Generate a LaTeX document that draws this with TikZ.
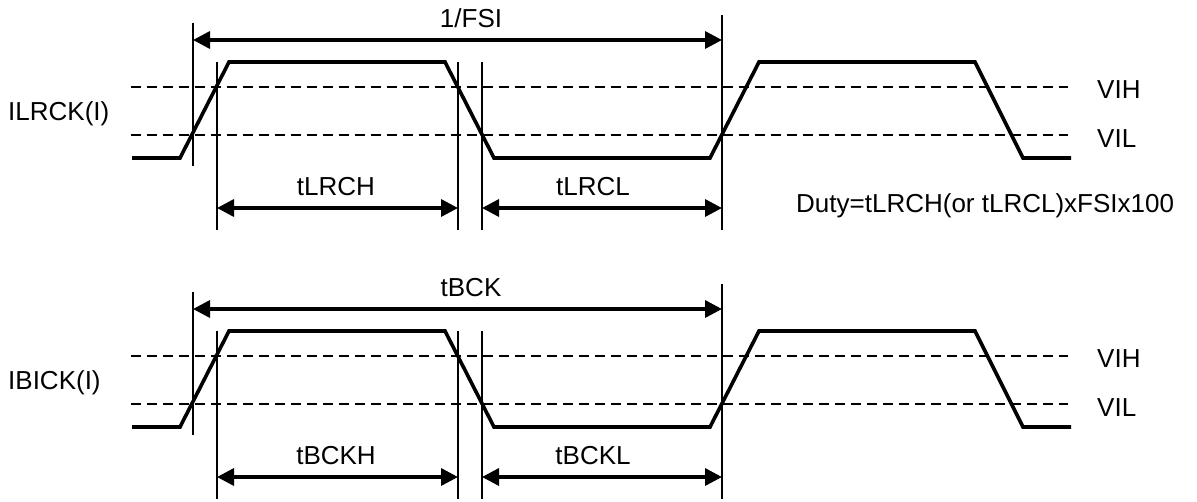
\documentclass[tikz,border=0pt]{standalone}
\usepackage{fontspec}
\setmainfont{Liberation Sans}
\usetikzlibrary{arrows.meta}
\tikzset{
  wave/.style={line width=3.6pt, line join=miter},
  thr/.style={line width=2.8pt, dash pattern=on 10pt off 6pt},
  tickln/.style={line width=1.5pt},
  dimarr/.style={line width=3.4pt, {Triangle[length=17pt,width=17pt]}-{Triangle[length=17pt,width=17pt]}},
  lbl/.style={inner sep=0pt, font=\fontsize{26}{30}\selectfont},
}
\newcommand{\mywave}[6]{%
\begin{scope}[shift={(0,#1)}]
  % thresholds
  \coordinate (#2hs) at (131,87); \coordinate (#2he) at (1068,87);
  \coordinate (#2ls) at (131,135); \coordinate (#2le) at (1068,135);
  \draw[thr] (#2hs) -- (#2he);
  \draw[thr] (#2ls) -- (#2le);
  % waveform
  \coordinate (#2w0) at (132,158);
  \coordinate (#2w1) at (180,158);
  \coordinate (#2w2) at (229,62);
  \coordinate (#2w3) at (445,62);
  \coordinate (#2w4) at (494,158);
  \coordinate (#2w5) at (710,158);
  \coordinate (#2w6) at (759,62);
  \coordinate (#2w7) at (975,62);
  \coordinate (#2w8) at (1023,158);
  \coordinate (#2w9) at (1071,158);
  \draw[wave] (#2w0) -- (#2w1) -- (#2w2) -- (#2w3) -- (#2w4) -- (#2w5) -- (#2w6) -- (#2w7) -- (#2w8) -- (#2w9);
  % tick lines
  \coordinate (#2t1a) at (193,23);  \coordinate (#2t1b) at (193,166);
  \coordinate (#2t2a) at (217,62);  \coordinate (#2t2b) at (217,230);
  \coordinate (#2t3a) at (458,62);  \coordinate (#2t3b) at (458,230);
  \coordinate (#2t4a) at (482,62);  \coordinate (#2t4b) at (482,230);
  \coordinate (#2t5a) at (722,15);  \coordinate (#2t5b) at (722,230);
  \foreach \k in {1,...,5} \draw[tickln] (#2t\k a) -- (#2t\k b);
  % dimension arrows
  \coordinate (#2pa) at (193,40);  \coordinate (#2pb) at (722,40);
  \coordinate (#2ha) at (217,208); \coordinate (#2hb) at (458,208);
  \coordinate (#2la) at (482,208); \coordinate (#2lb) at (722,208);
  \draw[dimarr] (#2pa) -- (#2pb);
  \draw[dimarr] (#2ha) -- (#2hb);
  \draw[dimarr] (#2la) -- (#2lb);
  % labels
  \node[lbl, anchor=base] (#2per) at (471,27) {#4};
  \node[lbl, anchor=base] (#2hi) at (336,195) {#5};
  \node[lbl, anchor=base] (#2lo) at (593,195) {#6};
  \node[lbl, anchor=base west] (#2vih) at (1097,98) {VIH};
  \node[lbl, anchor=base west] (#2vil) at (1097,147) {VIL};
  \node[lbl, anchor=base west] (#2sig) at (8,120) {#3};
\end{scope}}
\begin{document}
\begin{tikzpicture}[x=1pt,y=-1pt]
\useasboundingbox (0,0) rectangle (1197,501);
\mywave{0}{a}{ILRCK(I)}{1/FSI}{tLRCH}{tLRCL}
\mywave{269}{b}{IBICK(I)}{tBCK}{tBCKH}{tBCKL}
\node[lbl, anchor=base west] (duty) at (796,212) {Duty=tLRCH(or tLRCL)xFSIx100};
\end{tikzpicture}
\end{document}
